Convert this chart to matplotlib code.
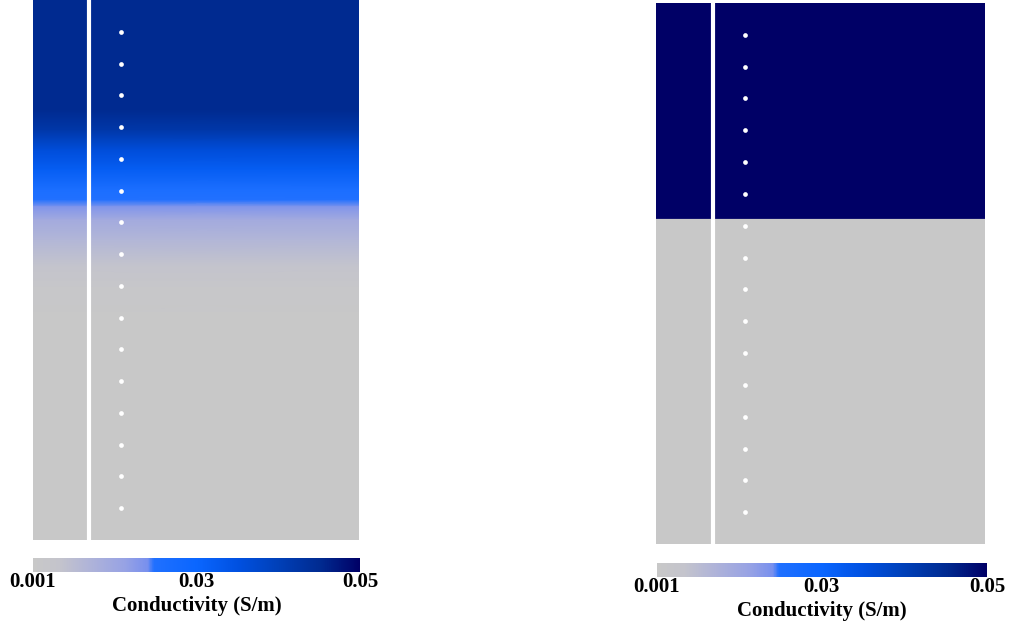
import numpy as np
import matplotlib
matplotlib.use("Agg")
import matplotlib.pyplot as plt
from matplotlib.colors import LinearSegmentedColormap, TwoSlopeNorm
from matplotlib.cm import ScalarMappable

# ---- data ----
# left model: smooth conductivity profile (depth in m, conductivity in S/m)
left_depth = [0.0, 3.46, 4.09, 4.72, 5.35, 5.97, 6.29, 6.51, 6.92, 7.55, 8.40, 9.12, 10.06, 17.0]
left_sigma = [0.0452, 0.0452, 0.042, 0.036, 0.032, 0.0242, 0.0225, 0.0201, 0.0143, 0.0103, 0.0056, 0.0027, 0.001, 0.001]

# right model: two layers
right_depth = [0.0, 6.8, 6.8, 17.0]
right_sigma = [0.05, 0.05, 0.001, 0.001]

electrode_depths = list(range(1, 17))
borehole_x = 1.77
electrode_x = 2.77
model_width = 10.25
model_depth = 17.0

cbar_ticks = [0.001, 0.03, 0.05]
cbar_ticklabels = ["0.001", "0.03", "0.05"]
cbar_label = "Conductivity (S/m)"

# ---- colormap ----
stops = [(0.0, "#c8c8c8"), (0.08, "#c4c4cc"), (0.17, "#b0b4d8"), (0.28, "#97a2e4"),
         (0.35, "#7890ee"), (0.37, "#2070ff"), (0.5, "#0a66ff"), (0.63, "#0050e0"),
         (0.75, "#0040b8"), (0.88, "#002a90"), (1.0, "#000066")]
cmap = LinearSegmentedColormap.from_list("cond", stops, N=512)
norm = TwoSlopeNorm(vmin=0.001, vcenter=0.03, vmax=0.05)

fig = plt.figure(figsize=(10.09, 6.24), dpi=100)

panels = [
    ([0.0327, 0.1346, 0.3231, 0.8654], left_depth, left_sigma),
    ([0.6501, 0.1282, 0.3261, 0.8670], right_depth, right_sigma),
]
cbar_rects = [[0.0327, 0.0833, 0.3240, 0.0224], [0.6511, 0.0753, 0.3270, 0.0224]]

serif = dict(family=["Liberation Serif", "DejaVu Serif"], weight="bold", size=15)

for (rect, depth, sigma), crect in zip(panels, cbar_rects):
    ax = fig.add_axes(rect)
    d = np.array(depth)
    s = np.array(sigma)
    X, Y = np.meshgrid([0.0, model_width], d)
    C = np.column_stack([s, s])
    ax.pcolormesh(X, Y, C, cmap=cmap, norm=norm, shading="gouraud")
    ax.axvline(borehole_x, color="white", lw=3)
    ax.plot([electrode_x] * len(electrode_depths), electrode_depths, "o",
            color="white", ms=3.4, mec="none")
    ax.set_xlim(0, model_width)
    ax.set_ylim(model_depth, 0)
    ax.set_axis_off()

    cax = fig.add_axes(crect)
    cb = fig.colorbar(ScalarMappable(norm=norm, cmap=cmap), cax=cax, orientation="horizontal")
    cb.outline.set_visible(False)
    cb.set_ticks(cbar_ticks)
    cb.set_ticklabels(cbar_ticklabels)
    cax.tick_params(length=0, pad=0)
    for t in cax.get_xticklabels():
        t.set_fontfamily(serif["family"])
        t.set_fontweight("bold")
        t.set_fontsize(15)
    cb.set_label(cbar_label, fontdict=serif, labelpad=3)

fig.savefig("out.png", dpi=100)
